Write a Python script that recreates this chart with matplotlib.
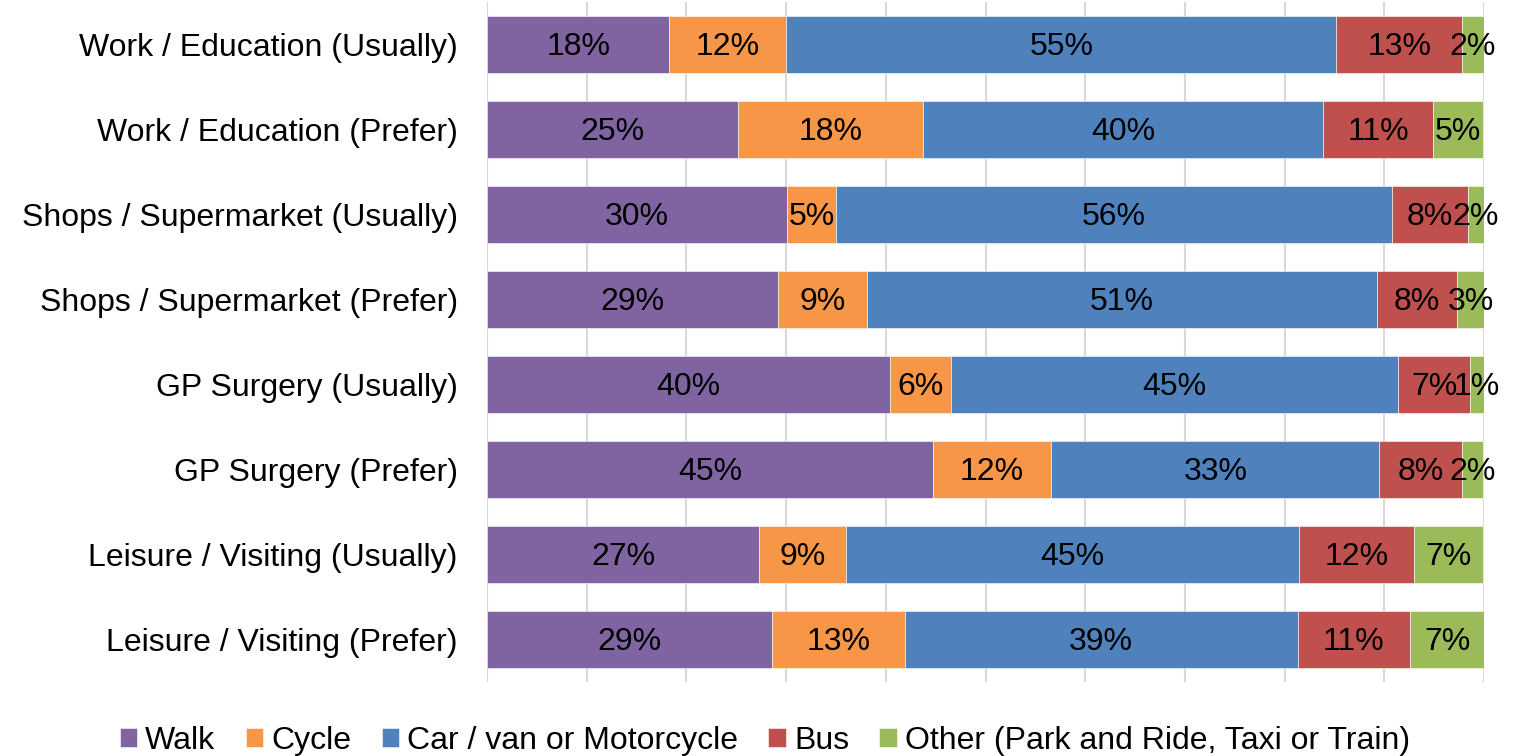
import matplotlib.pyplot as plt
import numpy as np

plt.rcParams['font.family'] = ['Liberation Sans', 'DejaVu Sans']

categories = ["Work / Education (Usually)", "Work / Education (Prefer)",
              "Shops / Supermarket (Usually)", "Shops / Supermarket (Prefer)",
              "GP Surgery (Usually)", "GP Surgery (Prefer)",
              "Leisure / Visiting (Usually)", "Leisure / Visiting (Prefer)"]

walk = [18.3, 25.2, 30.1, 29.2, 40.4, 44.7, 27.3, 28.6]
cycle = [11.7, 18.5, 4.9, 8.9, 6.1, 11.9, 8.7, 13.3]
car = [55.2, 40.2, 55.8, 51.2, 44.9, 32.9, 45.4, 39.4]
bus = [12.6, 11.0, 7.6, 8.0, 7.2, 8.3, 11.6, 11.3]
other = [2.2, 5.0, 1.6, 2.7, 1.4, 2.1, 6.9, 7.4]

series = ["Walk", "Cycle", "Car / van or Motorcycle", "Bus",
          "Other (Park and Ride, Taxi or Train)"]
colors = ["#8064A2", "#F79646", "#4F81BD", "#C0504D", "#9BBB59"]

fig = plt.figure(figsize=(15.39, 7.56), dpi=100)
ax = fig.add_axes([487 / 1539, 1 - 682 / 756, 997 / 1539, 680 / 756])

y = np.arange(len(categories))
left = np.zeros(len(categories))
for name, vals, col in zip(series, [walk, cycle, car, bus, other], colors):
    vals = np.array(vals)
    ax.barh(y, vals, left=left, height=0.68, color=col, label=name,
            edgecolor='white', linewidth=0.4, zorder=3)
    for yi, l, v in zip(y, left, vals):
        ax.text(l + v / 2, yi + 0.025, "%.0f%%" % v, ha='center', va='center',
                fontsize=23, color='black', zorder=4)
    left += vals

ax.set_xlim(0, 100)
ax.set_ylim(len(categories) - 0.5, -0.5)
ax.set_xticks(np.arange(0, 101, 10))
ax.set_xticklabels([])
ax.tick_params(axis='x', length=0)
ax.set_yticks(y)
ax.set_yticklabels(categories, fontsize=23)
ax.tick_params(axis='y', length=0, pad=21)
ax.grid(axis='x', color='#d9d9d9', linewidth=1.5, zorder=0)
for s in ax.spines.values():
    s.set_visible(False)

fig.legend(loc='lower center', bbox_to_anchor=(0.497, -0.038), ncol=5,
           frameon=False, fontsize=23, handlelength=0.55, handleheight=0.55,
           handletextpad=0.25, columnspacing=0.95)

fig.savefig('out.png', dpi=100)
